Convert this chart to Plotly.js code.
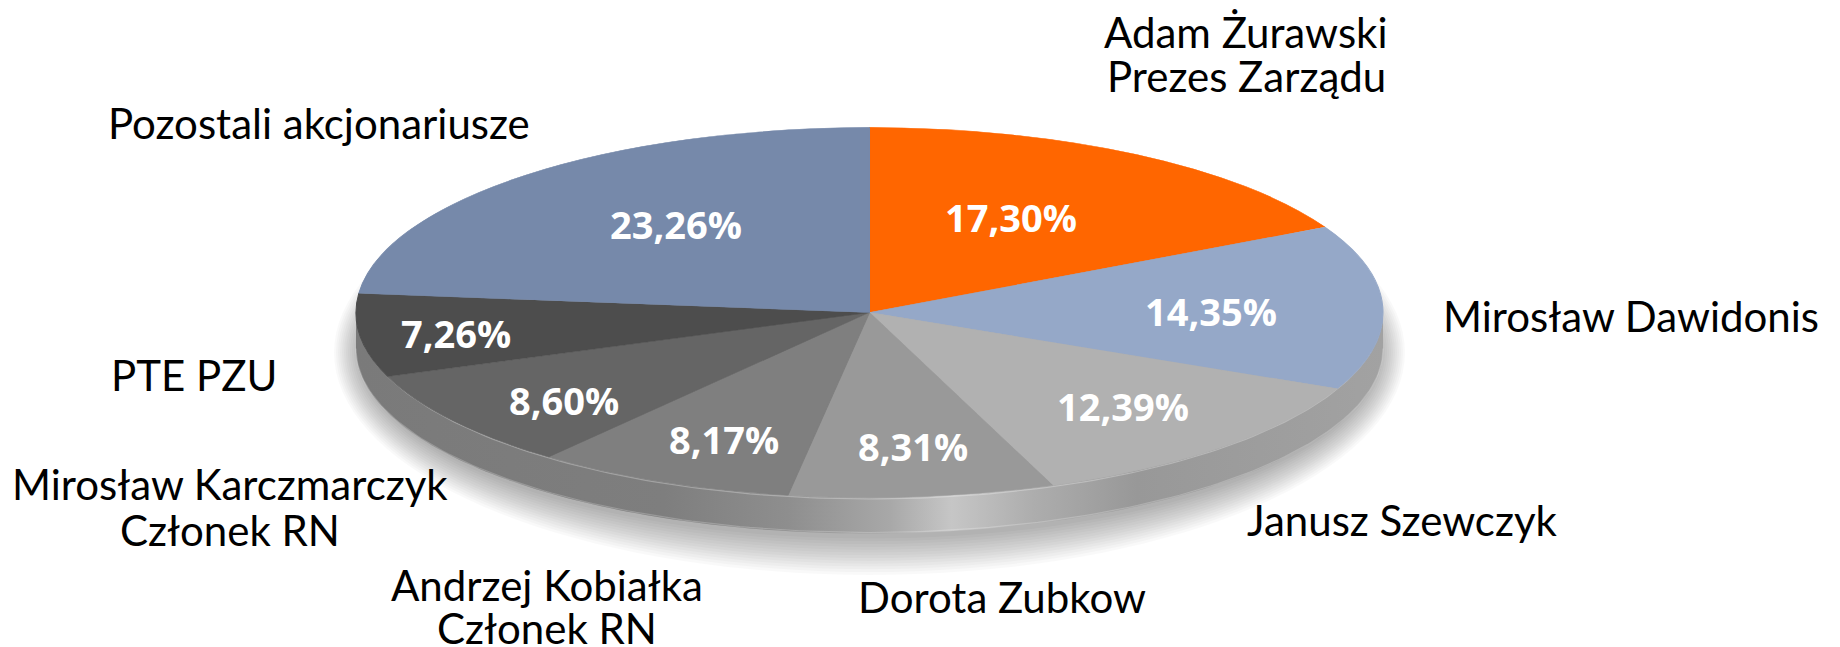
<!DOCTYPE html>
<html><head><meta charset="utf-8">
<script src="https://cdn.plot.ly/plotly-3.0.1.min.js"></script>
<style>html,body{margin:0;padding:0;background:#fff}#chart{width:1840px;height:647px}</style>
</head><body><div id="chart"></div>
<script>
// ---- data ----
const holders = ["Adam Żurawski<br>Prezes Zarządu","Mirosław Dawidonis","Janusz Szewczyk","Dorota Zubkow","Andrzej Kobiałka<br>Członek RN","Mirosław Karczmarczyk<br>Członek RN","PTE PZU","Pozostali akcjonariusze"];
const shares = [17.30,14.35,12.39,8.31,8.17,8.60,7.26,23.26];
// ---- styling and placement ----
const sliceColors = ["#ff6600","#95a8c8","#b1b1b1","#999999","#7f7f7f","#656565","#4d4d4d","#7689aa"];
const nameX = [1246,1631,1402,1002,547,230,194,319];
const nameY = [[32,76],[316],[520],[597],[585,628],[484,530],[375],[123]];
const pctX = [1011,1211,1123,913,724,564,456,676];
const pctY = [217,311,406,446,439,400,333,224];
const W=1840,H=647,CX=869.5,CY=312.5,A=513.5,B=185,DEPTH=36;
const NAME_FONT='Lato, sans-serif', PCT_FONT='"Open Sans", sans-serif';

function arc(a,b,cy,t0,t1,n){const xs=[],ys=[];for(let i=0;i<=n;i++){const t=t0+(t1-t0)*i/n;xs.push(CX+a*Math.cos(t));ys.push(cy+b*Math.sin(t));}return {xs,ys};}
const traces=[];
// soft shadow
for(let i=0;i<14;i++){
  const e=arc(A-4+i*2,B+1+i*2.8,CY+DEPTH+4,0,2*Math.PI,140);
  traces.push({type:'scatter',mode:'none',x:e.xs,y:e.ys,fill:'toself',fillcolor:'rgba(0,0,0,0.024)',hoverinfo:'skip',showlegend:false});
}
// side wall
const wallTop=arc(A,B,CY,0,Math.PI,160), wallBot=arc(A,B,CY+DEPTH,Math.PI,0,160);
traces.push({type:'scatter',mode:'none',x:wallTop.xs.concat(wallBot.xs),y:wallTop.ys.concat(wallBot.ys),fill:'toself',
  fillgradient:{type:'horizontal',colorscale:[[0,'#7a7a7a'],[0.3,'#7e7e7e'],[0.42,'#8e8e8e'],[0.52,'#a8a8a8'],[0.58,'#c6c6c6'],[0.66,'#adadad'],[0.76,'#989898'],[1,'#a2a2a2']]},
  hoverinfo:'skip',showlegend:false});
// rim highlights
const rim=arc(A-0.5,B+1.5,CY,0,Math.PI,160), edge=arc(A,B-1,CY+DEPTH,0,Math.PI,160);
traces.push({type:'scatter',mode:'lines',x:rim.xs,y:rim.ys,line:{color:'rgba(255,255,255,0.28)',width:1.2},hoverinfo:'skip',showlegend:false});
traces.push({type:'scatter',mode:'lines',x:edge.xs,y:edge.ys,line:{color:'rgba(255,255,255,0.22)',width:1.2},hoverinfo:'skip',showlegend:false});
// pie
const R=300;
traces.push({type:'pie',labels:holders,values:shares,sort:false,direction:'clockwise',rotation:0,textinfo:'none',hoverinfo:'label+percent',
  marker:{colors:sliceColors,line:{color:sliceColors,width:0.6}},showlegend:false,
  domain:{x:[(CX-R)/W,(CX+R)/W],y:[(H-CY-R)/H,(H-CY+R)/H]}});

const annotations=[];
holders.forEach((h,i)=>{
  h.split('<br>').forEach((line,k)=>{
    annotations.push({xref:'x',yref:'y',x:nameX[i],y:nameY[i][k],text:line,showarrow:false,xanchor:'center',yanchor:'middle',align:'center',font:{family:NAME_FONT,size:42,color:'#000'}});
  });
  annotations.push({xref:'x',yref:'y',x:pctX[i],y:pctY[i],text:'<b>'+shares[i].toFixed(2).replace('.',',')+'%</b>',showarrow:false,xanchor:'center',yanchor:'middle',font:{family:PCT_FONT,size:38,color:'#fff'}});
});
const layout={width:W,height:H,margin:{l:0,r:0,t:0,b:0},paper_bgcolor:'#fff',plot_bgcolor:'#fff',showlegend:false,
  xaxis:{range:[0,W],visible:false,fixedrange:true},yaxis:{range:[H,0],visible:false,fixedrange:true},annotations};
const gd=document.getElementById('chart');
Plotly.newPlot(gd,traces,layout,{displayModeBar:false,staticPlot:true}).then(()=>{
  // the library draws a circular pie; flatten it to the ellipse of the tilted disc
  const pl=gd.querySelector('.pielayer');
  const cd=gd.calcdata.find(c=>c[0]&&c[0].r!==undefined&&c[0].cx!==undefined)[0];
  pl.setAttribute('transform',`translate(${cd.cx},${cd.cy}) scale(${A/cd.r},${B/cd.r}) translate(${-cd.cx},${-cd.cy})`);
});
</script></body></html>
